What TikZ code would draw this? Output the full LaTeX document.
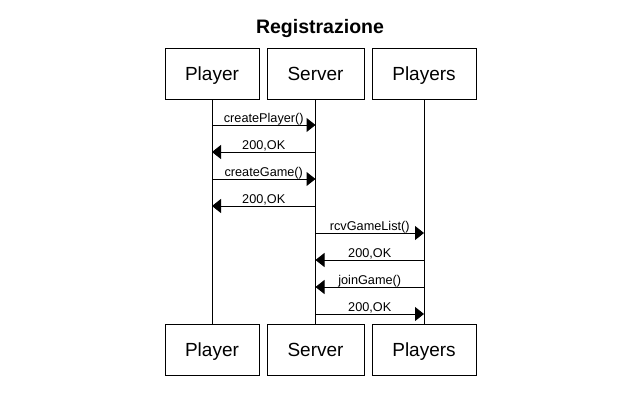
\documentclass[tikz,border=0pt]{standalone}
\usepackage{fontspec}
\setmainfont{Liberation Sans}
\usetikzlibrary{arrows.meta}
\begin{document}
\begin{tikzpicture}[x=1pt,y=-1pt,
  actor/.style={draw=black,line width=1pt,minimum height=51pt,inner sep=0pt,text height=14pt,text depth=1pt,font=\fontsize{19}{22}\selectfont},
  lifeline/.style={draw=black,line width=1pt},
  msg/.style={draw=black,line width=1pt,-{Triangle[length=9pt,width=14pt]}},
  lbl/.style={font=\fontsize{12.7}{14}\selectfont,midway,anchor=base,yshift=3pt,inner sep=0pt}]
\useasboundingbox (0,0) rectangle (640,400);
\node[font=\bfseries\fontsize{19.5}{22}\selectfont,anchor=base] (title) at (320,33) {Registrazione};
% top actors
\node[actor,minimum width=94pt] (p1) at (212,73.5) {Player};
\node[actor,minimum width=97pt] (s1) at (315.5,73.5) {Server};
\node[actor,minimum width=104pt] (q1) at (424,73.5) {Players};
% bottom actors
\node[actor,minimum width=94pt] (p2) at (212,349.5) {Player};
\node[actor,minimum width=97pt] (s2) at (315.5,349.5) {Server};
\node[actor,minimum width=104pt] (q2) at (424,349.5) {Players};
% lifelines
\draw[lifeline] (p1.south) -- (p2.north);
\draw[lifeline] (s1.south) -- (s2.north);
\draw[lifeline] (q1.south) -- (q2.north);
% message anchor points
\foreach \n/\y in {a/125,b/152,c/179,d/206,e/233,f/260,g/287,h/314}{
  \coordinate (P\n) at (p1.south |- 0,\y);
  \coordinate (S\n) at (s1.south |- 0,\y);
  \coordinate (Q\n) at (q1.south |- 0,\y);
}
\draw[msg] (Pa) -- (Sa) node[lbl] (la) {createPlayer()};
\draw[msg] (Sb) -- (Pb) node[lbl] (lb) {200,OK};
\draw[msg] (Pc) -- (Sc) node[lbl] (lc) {createGame()};
\draw[msg] (Sd) -- (Pd) node[lbl] (ld) {200,OK};
\draw[msg] (Se) -- (Qe) node[lbl] (le) {rcvGameList()};
\draw[msg] (Qf) -- (Sf) node[lbl] (lf) {200,OK};
\draw[msg] (Qg) -- (Sg) node[lbl] (lg) {joinGame()};
\draw[msg] (Sh) -- (Qh) node[lbl] (lh) {200,OK};
\end{tikzpicture}
\end{document}
